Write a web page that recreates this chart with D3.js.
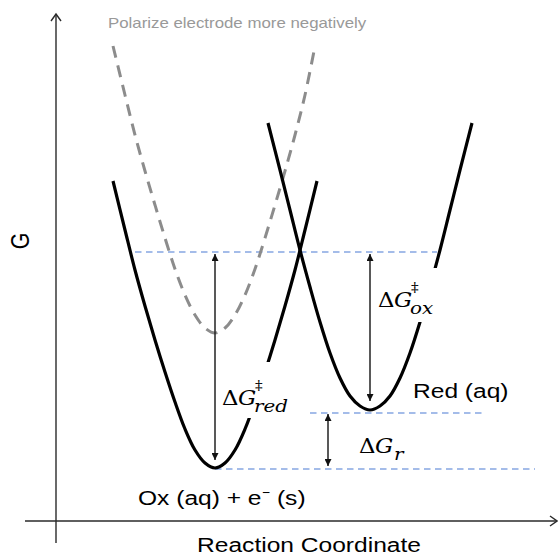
<!DOCTYPE html>
<html><head><meta charset="utf-8">
<script src="https://cdn.jsdelivr.net/npm/d3@7"></script>
<style>html,body{margin:0;padding:0;background:#fff;}svg{display:block;}</style>
</head><body>
<svg id="c" width="558" height="556"></svg>
<script>
// ---- data (reaction coordinate, G) in arbitrary units ----
const oxCurve = [[11.4,68.0],[13.8,58.2],[15.8,50.2],[17.8,43.0],[19.8,36.2],[21.8,29.8],[23.8,23.8],[25.8,18.4],[27.8,14.2],[29.8,11.6],[31.8,10.6],[33.8,11.6],[35.8,14.2],[37.8,18.4],[39.8,23.8],[41.8,29.8],[43.8,36.2],[45.8,43.0],[47.8,50.2],[49.8,58.2],[52.2,68.0]];
const redCurve = [[42.4,79.6],[44.8,70.2],[46.8,62.2],[48.8,54.2],[50.8,46.8],[52.8,39.8],[54.8,33.6],[56.8,28.6],[58.8,25.0],[60.8,23.0],[62.8,22.2],[64.8,23.0],[66.8,25.0],[68.8,28.6],[70.8,33.6],[72.8,39.8],[74.8,46.8],[76.8,54.2],[78.8,62.2],[80.8,70.2],[83.2,79.6]];
const polarizedCurve = [[11.4,95.0],[13.8,85.2],[15.8,77.2],[17.8,70.0],[19.8,63.2],[21.8,56.6],[23.8,50.4],[25.8,45.2],[27.8,41.2],[29.8,38.6],[31.8,37.6],[33.8,38.6],[35.8,41.2],[37.8,45.2],[39.8,50.4],[41.8,56.6],[43.8,63.2],[45.8,70.0],[47.8,77.2],[49.8,85.2],[51.8,95.0]];
// reference levels: [G, xStart, xEnd]
const levels = [[53.8,15.8,76.2],[21.6,50.8,85.8],[10.4,31.8,95.8]];
// energy arrows: [x, Gtop, Gbottom]
const arrows = [[31.8,53.4,12.2],[62.8,53.4,24.0],[54.4,21.4,11.0]];

const svg = d3.select('#c');
const x = d3.scaleLinear().domain([0,100]).range([56,556]);
const y = d3.scaleLinear().domain([0,100]).range([521,21]);
const SX = 1.17; // horizontal stretch of the original image
const sans = 'Liberation Sans, Arial, sans-serif';
const serif = 'DejaVu Serif, serif';

const defs = svg.append('defs');
defs.append('marker').attr('id','ah').attr('viewBox','0 0 10 10').attr('refX',10).attr('refY',5)
  .attr('markerWidth',9).attr('markerHeight',7).attr('markerUnits','userSpaceOnUse').attr('orient','auto-start-reverse')
  .append('path').attr('d','M0,0 L10,5 L0,10 Z').attr('fill','#111');

// axes
const axisColor = '#2a2a2a';
svg.append('line').attr('x1',x(0)).attr('x2',x(0)).attr('y1',543).attr('y2',14).attr('stroke',axisColor).attr('stroke-width',1.4);
svg.append('path').attr('d',`M${x(0)-5},${21} L${x(0)},${14} L${x(0)+5},${21}`).attr('fill','none').attr('stroke',axisColor).attr('stroke-width',1.4);
svg.append('line').attr('x1',25).attr('x2',557).attr('y1',y(0)).attr('y2',y(0)).attr('stroke',axisColor).attr('stroke-width',1.4);
svg.append('path').attr('d',`M550,${y(0)-5} L557,${y(0)} L550,${y(0)+5}`).attr('fill','none').attr('stroke',axisColor).attr('stroke-width',1.4);

// reference dashed levels
svg.selectAll('line.level').data(levels).enter().append('line').attr('class','level')
  .attr('x1',d=>x(d[1])).attr('x2',d=>x(d[2])).attr('y1',d=>y(d[0])).attr('y2',d=>y(d[0]))
  .attr('stroke','#4a7bd4').attr('stroke-width',1.2).attr('stroke-dasharray','6.5,4.5');

const line = d3.line().x(d=>x(d[0])).y(d=>y(d[1])).curve(d3.curveCatmullRom.alpha(0.5));

svg.append('path').attr('d',line(polarizedCurve)).attr('fill','none').attr('stroke','#8c8c8c')
  .attr('stroke-width',3).attr('stroke-dasharray','12,8');
svg.append('path').attr('d',line(oxCurve)).attr('fill','none').attr('stroke','#000').attr('stroke-width',3.2);
svg.append('path').attr('d',line(redCurve)).attr('fill','none').attr('stroke','#000').attr('stroke-width',3.2);

// arrows
svg.selectAll('line.arr').data(arrows).enter().append('line').attr('class','arr')
  .attr('x1',d=>x(d[0])).attr('x2',d=>x(d[0])).attr('y1',d=>y(d[1])).attr('y2',d=>y(d[2]))
  .attr('stroke','#222').attr('stroke-width',1.5)
  .attr('marker-start','url(#ah)').attr('marker-end','url(#ah)');

// label boxes covering curves
svg.append('rect').attr('x',221).attr('y',362).attr('width',69).attr('height',56).attr('fill','#fff');
svg.append('rect').attr('x',377).attr('y',268).attr('width',64).attr('height',54).attr('fill','#fff');

function t(str, px, py, size, opts={}) {
  const el = svg.append('text').attr('transform',`translate(${px},${py}) scale(${SX},1)`)
    .attr('font-family',opts.family||sans).attr('font-size',size).attr('fill',opts.fill||'#000').text(str);
  if (opts.italic) el.attr('font-style','italic');
  if (opts.anchor) el.attr('text-anchor',opts.anchor);
  return el;
}
function mathLabel(px, py, sub, sup) {
  t('Δ', px, py, 19.5, {family:serif});
  t('G', px+16, py, 19.5, {family:serif, italic:true});
  const xo = px+33;
  if (sup) t('‡', xo, py-15, 13, {family:serif});
  t(sub, sup ? xo-1 : xo+2, py+7, 17, {family:serif, italic:true});
}
mathLabel(222, 405, 'red', true);
mathLabel(378, 307, 'ox', true);
mathLabel(359, 453, 'r', false);

t('Red (aq)', 413, 398, 21);
t('Ox (aq) + e⁻ (s)', 138, 505, 21);
t('Reaction Coordinate', 0, 0, 21).attr('transform',`translate(309,552) scale(${SX},1)`).attr('text-anchor','middle');
t('Polarize electrode more negatively', 108, 28, 14.4, {fill:'#999'});
svg.append('text').attr('transform',`translate(29,241) scale(${SX},1) rotate(-90)`)
  .attr('font-family',sans).attr('font-size',21.5).attr('text-anchor','middle').text('G');
</script>
</body></html>
